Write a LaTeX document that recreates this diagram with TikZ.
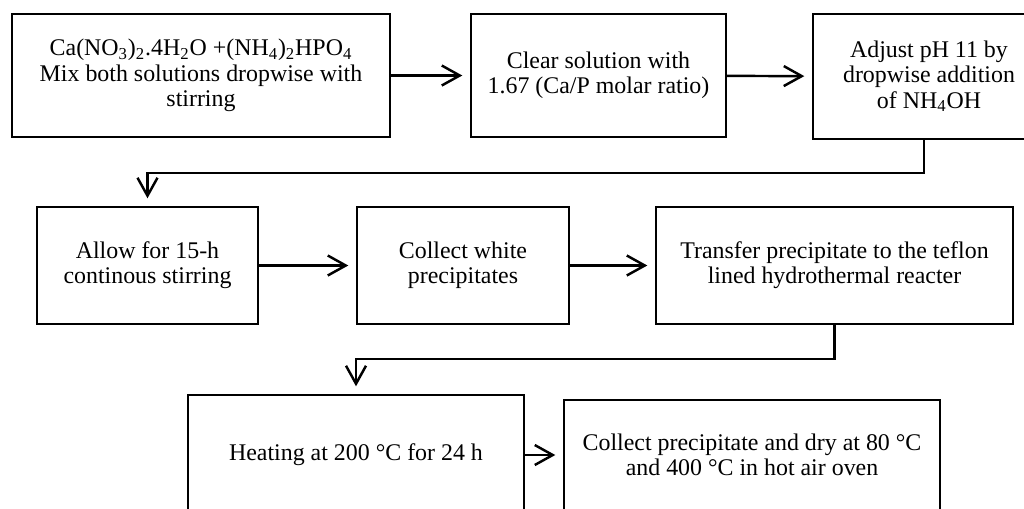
\documentclass[tikz,border=0pt]{standalone}
\usepackage{fontspec}
\setmainfont{Liberation Serif}
\usetikzlibrary{arrows.meta, positioning}
\tikzset{
  procbox/.style={draw, line width=1.4pt, rectangle, align=center, inner sep=0pt,
    font=\fontsize{13.6}{14.4}\selectfont},
  flow/.style={-{Straight Barb[length=3.6mm,width=4mm]}, line width=1.4pt, shorten >=0.15cm}
}

\begin{document}
\begin{tikzpicture}[x=0.02cm, y=-0.02cm]
\useasboundingbox (0,0) rectangle (1024,508);
\clip (0,0) rectangle (1024,508);
% first row
\node[procbox, minimum width=7.56cm, minimum height=2.46cm] (b1) at (201,75.5) {Ca(NO\textsubscript{3})\textsubscript{2}.4H\textsubscript{2}O +(NH\textsubscript{4})\textsubscript{2}HPO\textsubscript{4}\\Mix both solutions dropwise with\\stirring};
\node[procbox, minimum width=5.1cm, minimum height=2.46cm] (b2) at (598.5,75.5) {Clear solution with\\1.67 (Ca/P molar ratio)};
\node[procbox, minimum width=4.64cm, minimum height=2.5cm] (b3) at (929,76.5) {Adjust pH 11 by\\dropwise addition\\of NH\textsubscript{4}OH};
% second row
\node[procbox, minimum width=4.42cm, minimum height=2.34cm] (b4) at (147.5,265.5) {Allow for 15-h\\continous stirring};
\node[procbox, minimum width=4.24cm, minimum height=2.34cm] (b5) at (463,265.5) {Collect white\\precipitates};
\node[procbox, minimum width=7.14cm, minimum height=2.34cm] (b6) at (834.5,265.5) {Transfer precipitate to the teflon\\lined hydrothermal reacter};
% third row
\node[procbox, minimum width=6.72cm, minimum height=2.4cm] (b7) at (356,455) {Heating at 200 °C for 24 h};
\node[procbox, minimum width=7.52cm, minimum height=2.2cm] (b8) at (752,455) {Collect precipitate and dry at 80 °C\\and 400 °C in hot air oven};
\coordinate (k1) at (924,173);
\coordinate (k2) at (834.5,359);
\draw [flow] (b1) -- (b2);
\draw [flow] (b2) -- (b3);
\draw [flow] (b3.south -| k1) -- (k1) -| (b4);
\draw [flow] (b4) -- (b5);
\draw [flow] (b5) -- (b6);
\draw [flow] (b6) -- (k2) -| (b7);
\draw [flow] (b7) -- (b8);
\end{tikzpicture}
\end{document}
